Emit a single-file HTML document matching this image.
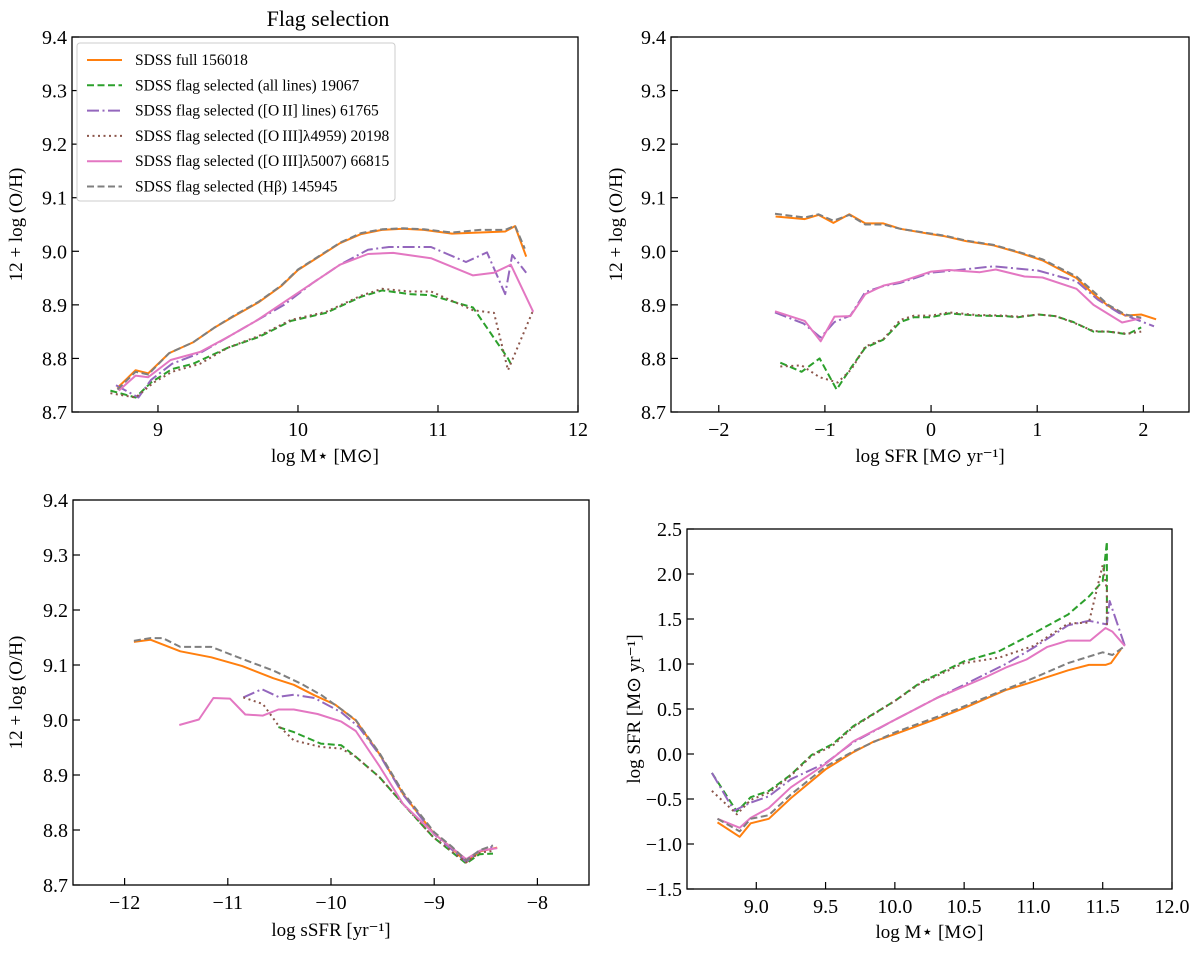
<!DOCTYPE html>
<html><head><meta charset="utf-8">
<style>
body{margin:0;background:#fff;}
svg text{font-family:"Liberation Serif",serif;fill:#000;}
</style></head>
<body>
<svg id="chart" width="1200" height="951" viewBox="0 0 1200 951" xmlns="http://www.w3.org/2000/svg">
<text x="328" y="26" font-size="22" text-anchor="middle">Flag selection</text>
</svg>
<script>
// ---------- series styles ----------
const seriesNames = ["full","all","oii","oiii4959","oiii5007","hbeta"];
const seriesColors = {full:"#ff7f0e",all:"#2ca02c",oii:"#9467bd",oiii4959:"#8c564b",oiii5007:"#e377c2",hbeta:"#7f7f7f"};
const seriesDash = {full:"",all:"7,3.5",oii:"12,3.5,2,3.5",oiii4959:"2,3.5",oiii5007:"",hbeta:"7,3.5"};
const legendLabels = ["SDSS full 156018","SDSS flag selected (all lines) 19067","SDSS flag selected ([O\u2009II] lines) 61765","SDSS flag selected ([O\u2009III]\u03bb4959) 20198","SDSS flag selected ([O\u2009III]\u03bb5007) 66815","SDSS flag selected (H\u03b2) 145945"];

// ---------- panel 1: metallicity vs stellar mass ----------
const p1_full_x=[8.71,8.84,8.93,9.08,9.25,9.4,9.55,9.72,9.88,10.0,10.15,10.3,10.45,10.6,10.75,10.9,11.1,11.3,11.48,11.55,11.63];
const p1_full_y=[8.745,8.778,8.772,8.81,8.83,8.857,8.88,8.905,8.935,8.965,8.99,9.015,9.032,9.04,9.042,9.04,9.033,9.035,9.037,9.047,8.99];
const p1_hbeta_x=[8.71,8.84,8.93,9.08,9.25,9.4,9.55,9.72,9.88,10.0,10.15,10.3,10.45,10.6,10.75,10.9,11.1,11.3,11.48,11.55,11.62];
const p1_hbeta_y=[8.742,8.775,8.77,8.81,8.83,8.857,8.881,8.906,8.936,8.966,8.991,9.016,9.034,9.041,9.043,9.041,9.035,9.04,9.04,9.048,9.005];
const p1_oii_x=[8.7,8.86,8.95,9.1,9.3,9.5,9.7,9.9,10.1,10.3,10.5,10.65,10.95,11.2,11.35,11.48,11.53,11.63];
const p1_oii_y=[8.75,8.727,8.76,8.79,8.81,8.84,8.87,8.9,8.94,8.975,9.003,9.008,9.008,8.98,8.998,8.92,8.993,8.96];
const p1_oiii5007_x=[8.72,8.84,8.93,9.09,9.3,9.5,9.7,9.9,10.1,10.3,10.5,10.68,10.95,11.25,11.4,11.52,11.68];
const p1_oiii5007_y=[8.74,8.768,8.765,8.797,8.812,8.84,8.87,8.905,8.94,8.975,8.995,8.997,8.987,8.955,8.96,8.975,8.887];
const p1_all_x=[8.66,8.84,8.95,9.1,9.25,9.5,9.72,9.95,10.2,10.45,10.6,10.8,10.95,11.25,11.5,11.52];
const p1_all_y=[8.74,8.727,8.755,8.78,8.79,8.82,8.84,8.87,8.885,8.915,8.927,8.92,8.918,8.895,8.8,8.79];
const p1_oiii4959_x=[8.66,8.84,8.97,9.1,9.3,9.5,9.72,9.95,10.2,10.45,10.6,10.8,10.95,11.25,11.4,11.5,11.68];
const p1_oiii4959_y=[8.735,8.727,8.755,8.775,8.79,8.82,8.842,8.872,8.887,8.917,8.93,8.925,8.925,8.89,8.885,8.778,8.89];

// ---------- panel 2: metallicity vs SFR ----------
const p2_full_x=[-1.465,-1.19,-1.06,-0.92,-0.77,-0.62,-0.45,-0.29,0,0.13,0.33,0.59,0.82,1.05,1.37,1.53,1.67,1.83,1.98,2.12];
const p2_full_y=[9.065,9.06,9.068,9.053,9.069,9.052,9.052,9.042,9.032,9.028,9.019,9.011,8.998,8.983,8.95,8.92,8.898,8.88,8.882,8.873];
const p2_hbeta_x=[-1.47,-1.19,-1.06,-0.92,-0.77,-0.62,-0.45,-0.29,0,0.13,0.33,0.59,0.82,1.05,1.37,1.53,1.67,1.83,1.98];
const p2_hbeta_y=[9.07,9.063,9.069,9.057,9.068,9.05,9.05,9.042,9.033,9.029,9.02,9.012,8.999,8.985,8.953,8.925,8.9,8.882,8.876];
const p2_oii_x=[-1.47,-1.2,-1.04,-0.91,-0.76,-0.62,-0.45,-0.29,0,0.26,0.59,1.01,1.37,1.57,1.77,2.1];
const p2_oii_y=[8.886,8.865,8.839,8.868,8.88,8.924,8.935,8.941,8.96,8.965,8.972,8.964,8.944,8.91,8.885,8.86];
const p2_oiii5007_x=[-1.47,-1.19,-1.04,-0.91,-0.76,-0.62,-0.45,-0.29,0,0.17,0.46,0.61,0.88,1.05,1.37,1.53,1.8,1.98];
const p2_oiii5007_y=[8.888,8.87,8.832,8.878,8.879,8.92,8.936,8.943,8.962,8.965,8.961,8.966,8.953,8.951,8.93,8.9,8.867,8.875];
const p2_all_x=[-1.42,-1.22,-1.05,-0.89,-0.75,-0.62,-0.45,-0.29,-0.16,0,0.17,0.43,0.69,0.82,1.01,1.17,1.34,1.53,1.67,1.85,1.98];
const p2_all_y=[8.792,8.775,8.8,8.742,8.784,8.82,8.835,8.868,8.877,8.877,8.884,8.88,8.879,8.877,8.882,8.879,8.868,8.85,8.85,8.845,8.858];
const p2_oiii4959_x=[-1.42,-1.22,-1.05,-0.88,-0.75,-0.62,-0.45,-0.29,-0.16,0,0.17,0.43,0.69,0.82,1.01,1.17,1.34,1.53,1.67,1.85,1.98];
const p2_oiii4959_y=[8.785,8.787,8.765,8.755,8.78,8.822,8.836,8.872,8.88,8.88,8.886,8.881,8.88,8.878,8.882,8.879,8.867,8.851,8.85,8.846,8.85];

// ---------- panel 3: metallicity vs sSFR ----------
const p3_full_x=[-11.91,-11.75,-11.46,-11.16,-10.86,-10.56,-10.36,-10.16,-9.96,-9.76,-9.53,-9.3,-9.0,-8.83,-8.69,-8.56,-8.39];
const p3_full_y=[9.142,9.146,9.125,9.114,9.098,9.076,9.064,9.045,9.028,8.999,8.938,8.865,8.793,8.768,8.741,8.761,8.768];
const p3_hbeta_x=[-11.91,-11.75,-11.63,-11.46,-11.16,-10.86,-10.56,-10.29,-10.09,-9.89,-9.76,-9.53,-9.3,-9.0,-8.83,-8.69,-8.56,-8.43];
const p3_hbeta_y=[9.144,9.149,9.149,9.133,9.133,9.111,9.09,9.066,9.045,9.018,9.0,8.94,8.868,8.796,8.77,8.745,8.763,8.772];
const p3_oii_x=[-10.85,-10.67,-10.51,-10.36,-10.16,-9.9,-9.73,-9.53,-9.3,-9.0,-8.69,-8.56,-8.43];
const p3_oii_y=[9.041,9.056,9.042,9.046,9.04,9.014,8.987,8.937,8.864,8.792,8.742,8.762,8.77];
const p3_oiii5007_x=[-11.47,-11.28,-11.14,-10.98,-10.83,-10.66,-10.51,-10.36,-10.13,-9.9,-9.76,-9.53,-9.3,-9.0,-8.69,-8.56,-8.39];
const p3_oiii5007_y=[8.991,9.001,9.04,9.039,9.01,9.008,9.019,9.019,9.011,8.997,8.98,8.916,8.847,8.793,8.747,8.762,8.767];
const p3_all_x=[-10.51,-10.36,-10.1,-9.9,-9.76,-9.53,-9.3,-9.01,-8.69,-8.56,-8.43];
const p3_all_y=[8.987,8.978,8.957,8.954,8.933,8.896,8.847,8.787,8.739,8.756,8.757];
const p3_oiii4959_x=[-10.85,-10.66,-10.51,-10.36,-10.1,-9.9,-9.76,-9.53,-9.3,-9.01,-8.69,-8.56,-8.43];
const p3_oiii4959_y=[9.041,9.029,8.99,8.963,8.951,8.948,8.933,8.896,8.847,8.787,8.741,8.759,8.762];

// ---------- panel 4: SFR vs stellar mass ----------
const p4_full_x=[8.72,8.88,8.96,9.09,9.25,9.5,9.7,9.85,10.0,10.3,10.5,10.65,10.8,10.95,11.25,11.4,11.52,11.56,11.63];
const p4_full_y=[-0.76,-0.92,-0.77,-0.72,-0.49,-0.17,0.02,0.14,0.22,0.39,0.51,0.61,0.71,0.78,0.93,0.99,0.99,1.01,1.16];
const p4_hbeta_x=[8.72,8.88,8.96,9.09,9.25,9.5,9.7,10.0,10.3,10.5,10.8,10.95,11.25,11.5,11.57,11.66];
const p4_hbeta_y=[-0.72,-0.86,-0.72,-0.68,-0.45,-0.14,0.03,0.24,0.41,0.53,0.72,0.81,1.01,1.13,1.10,1.2];
const p4_oii_x=[8.68,8.84,8.96,9.09,9.25,9.5,9.7,10.0,10.3,10.5,10.8,11.0,11.25,11.4,11.53,11.55,11.66];
const p4_oii_y=[-0.21,-0.63,-0.54,-0.47,-0.28,-0.1,0.13,0.38,0.62,0.77,1.0,1.18,1.43,1.48,1.44,1.70,1.2];
const p4_oiii5007_x=[8.72,8.88,8.96,9.09,9.25,9.5,9.7,10.0,10.3,10.65,10.8,10.95,11.1,11.25,11.41,11.52,11.57,11.66];
const p4_oiii5007_y=[-0.72,-0.82,-0.71,-0.6,-0.37,-0.11,0.14,0.38,0.62,0.85,0.96,1.05,1.19,1.26,1.26,1.4,1.36,1.2];
const p4_all_x=[8.68,8.86,8.96,9.09,9.25,9.4,9.55,9.7,10.0,10.18,10.5,10.75,11.0,11.25,11.4,11.5,11.53,11.53];
const p4_all_y=[-0.21,-0.64,-0.48,-0.41,-0.23,-0.01,0.11,0.31,0.59,0.79,1.03,1.14,1.34,1.55,1.75,1.92,2.36,1.42];
const p4_oiii4959_x=[8.68,8.86,8.96,9.09,9.25,9.4,9.55,9.7,10.0,10.18,10.5,10.75,11.0,11.25,11.4,11.5,11.53,11.53];
const p4_oiii4959_y=[-0.41,-0.67,-0.51,-0.43,-0.24,-0.02,0.09,0.3,0.59,0.78,1.01,1.07,1.2,1.45,1.46,2.1,1.82,1.42];

// ---------- tick labels ----------
const p1_xticks=[9,10,11,12];
const p1_yticks=[8.7,8.8,8.9,9.0,9.1,9.2,9.3,9.4];
const p2_xticks=[-2,-1,0,1,2];
const p3_xticks=[-12,-11,-10,-9,-8];
const p4_xticks=[9.0,9.5,10.0,10.5,11.0,11.5,12.0];
const p4_yticks=[-1.5,-1.0,-0.5,0.0,0.5,1.0,1.5,2.0,2.5];

const NS="http://www.w3.org/2000/svg";
const svg=document.getElementById('chart');
function mk(tag,attrs,parent){const e=document.createElementNS(NS,tag);for(const k in attrs)e.setAttribute(k,attrs[k]);(parent||svg).appendChild(e);return e;}
function fmt(v,d){const s=v.toFixed(d);return v<0?"\u2212"+s.slice(1):s;}

const panels=[
 {id:"p1",box:[72,37,578,412],xr:[8.386,12.0],yr:[8.7,9.4],xt:p1_xticks,xd:0,yt:p1_yticks,yd:1,
  xl:"log M\u22c6 [M\u2299]",yl:"12 + log (O/H)",xly:462,ylx:22},
 {id:"p2",box:[671,37,1189,412],xr:[-2.45,2.43],yr:[8.7,9.4],xt:p2_xticks,xd:0,yt:p1_yticks,yd:1,
  xl:"log SFR [M\u2299 yr\u207b\u00b9]",yl:"12 + log (O/H)",xly:462,ylx:622},
 {id:"p3",box:[73,500,589,885],xr:[-12.5,-7.5],yr:[8.7,9.4],xt:p3_xticks,xd:0,yt:p1_yticks,yd:1,
  xl:"log sSFR [yr\u207b\u00b9]",yl:"12 + log (O/H)",xly:936,ylx:22},
 {id:"p4",box:[687,529,1172,889],xr:[8.5,12.0],yr:[-1.5,2.5],xt:p4_xticks,xd:1,yt:p4_yticks,yd:1,
  xl:"log M\u22c6 [M\u2299]",yl:"log SFR [M\u2299 yr\u207b\u00b9]",xly:938,ylx:640}
];
const data={p1:{},p2:{},p3:{},p4:{}};
data.p1={full:[p1_full_x,p1_full_y],all:[p1_all_x,p1_all_y],oii:[p1_oii_x,p1_oii_y],oiii4959:[p1_oiii4959_x,p1_oiii4959_y],oiii5007:[p1_oiii5007_x,p1_oiii5007_y],hbeta:[p1_hbeta_x,p1_hbeta_y]};
data.p2={full:[p2_full_x,p2_full_y],all:[p2_all_x,p2_all_y],oii:[p2_oii_x,p2_oii_y],oiii4959:[p2_oiii4959_x,p2_oiii4959_y],oiii5007:[p2_oiii5007_x,p2_oiii5007_y],hbeta:[p2_hbeta_x,p2_hbeta_y]};
data.p3={full:[p3_full_x,p3_full_y],all:[p3_all_x,p3_all_y],oii:[p3_oii_x,p3_oii_y],oiii4959:[p3_oiii4959_x,p3_oiii4959_y],oiii5007:[p3_oiii5007_x,p3_oiii5007_y],hbeta:[p3_hbeta_x,p3_hbeta_y]};
data.p4={full:[p4_full_x,p4_full_y],all:[p4_all_x,p4_all_y],oii:[p4_oii_x,p4_oii_y],oiii4959:[p4_oiii4959_x,p4_oiii4959_y],oiii5007:[p4_oiii5007_x,p4_oiii5007_y],hbeta:[p4_hbeta_x,p4_hbeta_y]};
const drawOrder=["full","all","oii","oiii4959","oiii5007","hbeta"];

panels.forEach(p=>{
  const [L,T,R,B]=p.box;
  const g=mk('g',{});
  
  
  const sx=v=>L+(v-p.xr[0])/(p.xr[1]-p.xr[0])*(R-L);
  const sy=v=>B-(v-p.yr[0])/(p.yr[1]-p.yr[0])*(B-T);
  const cid='clip-'+p.id;
  const cp=mk('clipPath',{id:cid},g);mk('rect',{x:L,y:T,width:R-L,height:B-T},cp);
  const lines=mk('g',{'clip-path':'url(#'+cid+')'},g);
  drawOrder.forEach(s=>{
    const [xs,ys]=data[p.id][s];
    const d=xs.map((x,i)=>(i?'L':'M')+sx(x).toFixed(1)+','+sy(ys[i]).toFixed(1)).join('');
    const path=mk('path',{d:d,fill:'none',stroke:seriesColors[s],'stroke-width':2,'stroke-dasharray':seriesDash[s],'stroke-linejoin':'round'},lines);
    
    
  });
  const frame=mk('rect',{x:L,y:T,width:R-L,height:B-T,fill:'none',stroke:'#000','stroke-width':1.3},g);
  
  
  p.xt.forEach(v=>{
    const x=sx(v);
    mk('line',{x1:x,y1:B,x2:x,y2:B-7,stroke:'#000','stroke-width':1.2},g);
    const t=mk('text',{x:x,y:B+24,'font-size':20,'text-anchor':'middle'},g);
    t.textContent=fmt(v,p.xd);
    
    
  });
  p.yt.forEach(v=>{
    const y=sy(v);
    mk('line',{x1:L,y1:y,x2:L+7,y2:y,stroke:'#000','stroke-width':1.2},g);
    const t=mk('text',{x:L-5,y:y+7,'font-size':20,'text-anchor':'end'},g);
    t.textContent=fmt(v,p.yd);
    
    
  });
  const xt=mk('text',{x:(L+R)/2,y:p.xly,'font-size':19,'text-anchor':'middle'},g);
  xt.textContent=p.xl;
  
  
  const yt=mk('text',{x:0,y:0,'font-size':19,'text-anchor':'middle',transform:'translate('+p.ylx+','+((T+B)/2)+') rotate(-90)'},g);
  yt.textContent=p.yl;
  
  
});

// legend
const lg=mk('g',{});


mk('rect',{x:77,y:43,width:318,height:158,fill:'#fff',stroke:'#ccc','stroke-width':1,rx:3},lg);
drawOrder.forEach((s,i)=>{
  const y=60+i*25.3;
  const e=mk('g',{},lg);
  
  
  mk('line',{x1:87,y1:y,x2:122,y2:y,stroke:seriesColors[s],'stroke-width':2,'stroke-dasharray':seriesDash[s]},e);
  const t=mk('text',{x:135,y:y+5,'font-size':15.5},e);
  t.textContent=legendLabels[i];
});
</script>
</body></html>
